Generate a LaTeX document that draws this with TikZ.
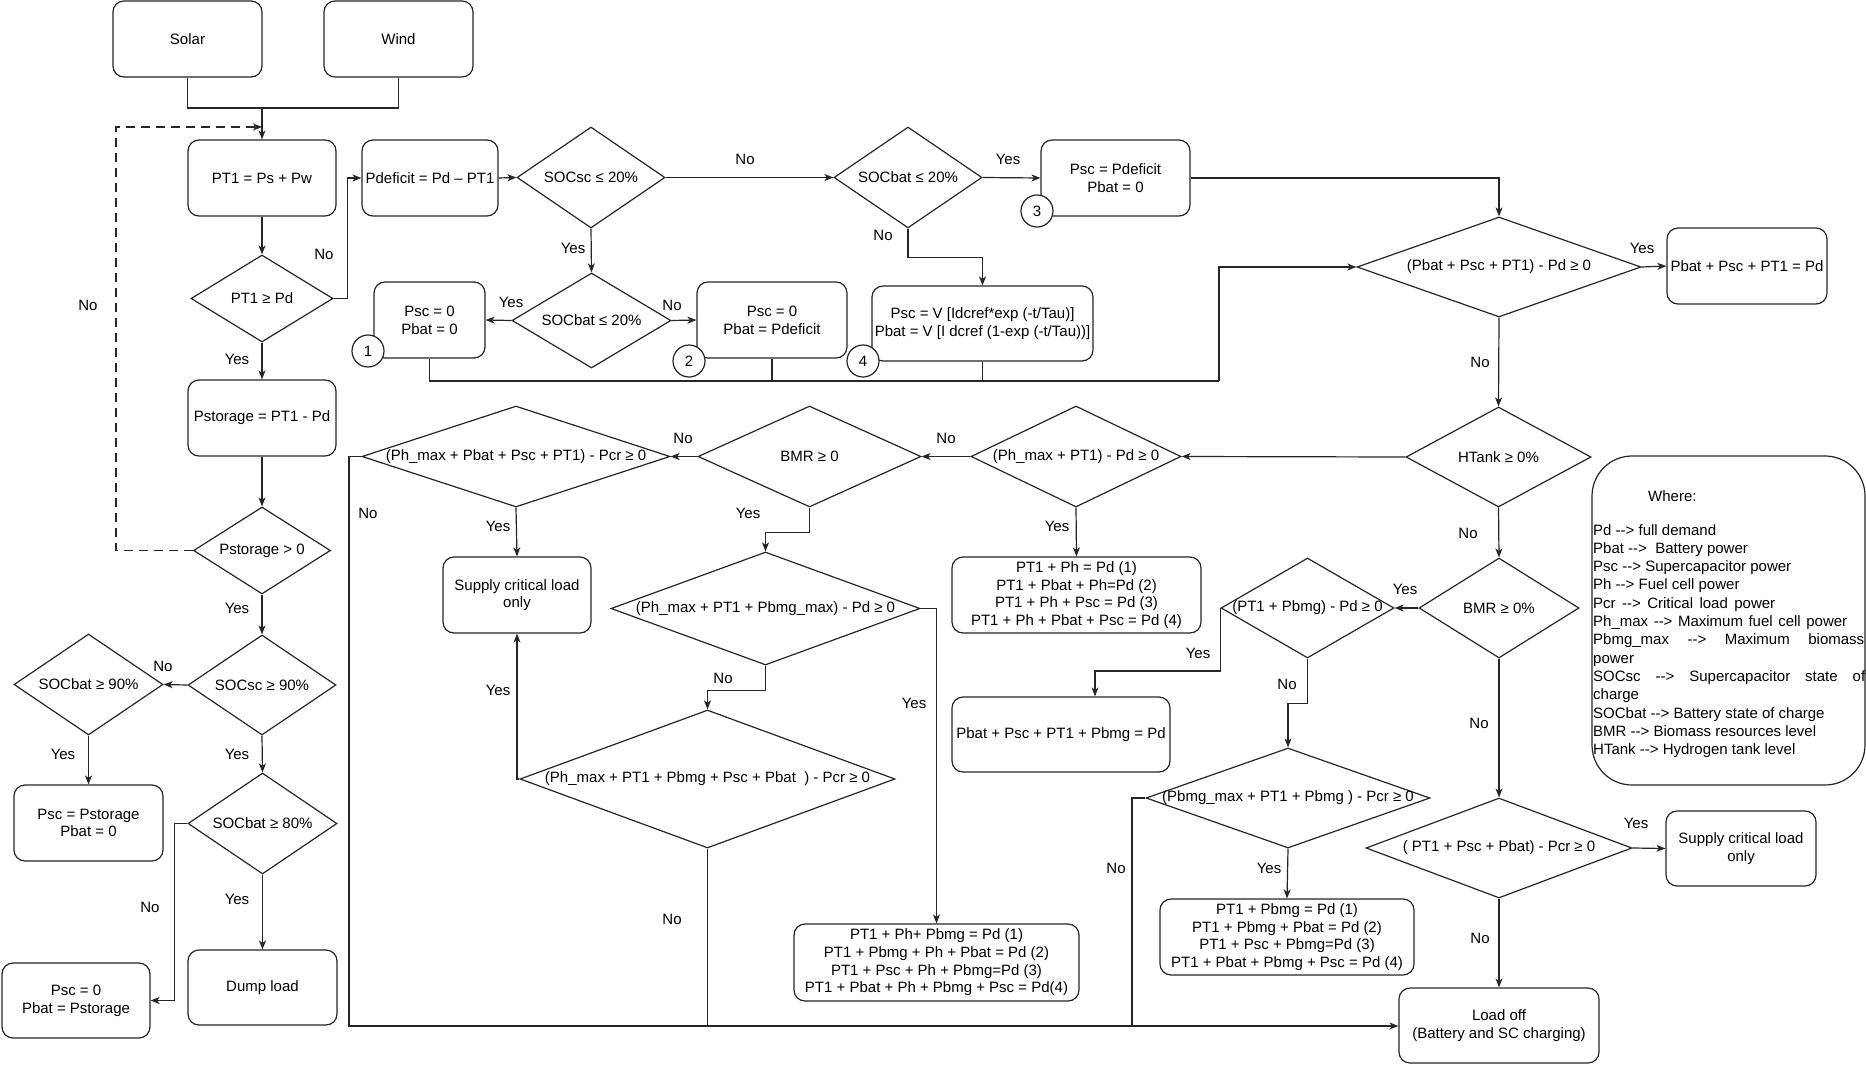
\documentclass[tikz,border=0pt]{standalone}
\usepackage{fontspec}
\setmainfont{Liberation Sans}
\usetikzlibrary{arrows.meta,shapes.geometric}
\newcommand\garr{-\hbox{}-\hbox{}>}
\newcommand\dianode[6]{%
  \node[dia, minimum width=#4, minimum height=#5] (#1) at (#2,#3) {};
  \node[lab] (#1t) at (#1.center) {#6};}
\tikzset{
  ln/.style={line width=1.2pt, draw=black!85},
  arr/.style={ln, -{Stealth[length=9pt,width=7pt,inset=2.5pt]}},
  box/.style={draw=black!85, line width=1.2pt, rounded corners=11pt, align=center, inner sep=2pt, fill=white},
  dia/.style={draw=black!85, line width=1.2pt, diamond, inner sep=0pt, fill=white},
  lab/.style={inner sep=0pt},
  circ/.style={draw=black!85, line width=1.2pt, circle, fill=white, minimum size=32pt, inner sep=0pt},
}
\begin{document}
\begin{tikzpicture}[x=1pt,y=-1pt,font=\fontsize{15}{17.7}\selectfont]
\fill[white] (0,0) rectangle (1866,1065);
\useasboundingbox (0,0) rectangle (1866,1065);

% ---- left column
\node[box, minimum width=149, minimum height=76] (solar) at (187.5,39) {Solar};
\node[box, minimum width=149, minimum height=76] (wind) at (398.5,39) {Wind};
\node[box, minimum width=148, minimum height=76] (pt1) at (262,178) {PT1 = Ps + Pw};
\dianode{c1}{262}{298.5}{142}{87}{PT1 ≥ Pd}
\node[box, minimum width=148, minimum height=76] (pstor) at (262,418) {Pstorage = PT1 - Pd};
\dianode{ps0}{262}{550.5}{137}{87}{Pstorage > 0}
\dianode{sc90}{262}{685}{148}{100}{SOCsc ≥ 90\%}
\dianode{sb90}{88.5}{684.5}{149}{101}{SOCbat ≥ 90\%}
\node[box, minimum width=149, minimum height=76] (bst1) at (88.5,823) {Psc = Pstorage\\Pbat = 0};
\dianode{sb80}{262.5}{823.5}{149}{101}{SOCbat ≥ 80\%}
\node[box, minimum width=148, minimum height=75] (bst2) at (76,1000.5) {Psc = 0\\Pbat = Pstorage};
\node[box, minimum width=149, minimum height=75] (dump) at (262.5,987.5) {Dump load};

% ---- top row
\node[box, minimum width=136, minimum height=76] (pdef) at (430,178) {Pdeficit = Pd – PT1};
\dianode{sc20}{591}{177.5}{148}{101}{SOCsc ≤ 20\%}
\dianode{sba}{908}{177.5}{148}{101}{SOCbat ≤ 20\%}
\dianode{sbb}{591.5}{320.5}{159}{95}{SOCbat ≤ 20\%}
\node[box, minimum width=111, minimum height=76] (b1) at (429.5,320) {Psc = 0\\Pbat = 0};
\node[box, minimum width=150, minimum height=76] (b2) at (772,320) {Psc = 0\\Pbat = Pdeficit};
\node[box, minimum width=149, minimum height=76] (b3) at (1115.5,178) {Psc = Pdeficit\\Pbat = 0};
\node[box, minimum width=221, minimum height=75] (b4) at (982.5,323.5) {Psc = V [Idcref*exp (-t/Tau)]\\Pbat = V [I dcref (1-exp (-t/Tau))]};
\node[circ] (n1) at (368,351) {1};
\node[circ] (n2) at (689,361) {2};
\node[circ] (n3) at (1037,211) {3};
\node[circ] (n4) at (863,361) {4};

\dianode{big}{1499}{267}{284}{100}{(Pbat + Psc + PT1) - Pd ≥ 0}
\node[box, minimum width=160, minimum height=76] (bfin) at (1747,266) {Pbat + Psc + PT1 = Pd};

% ---- middle
\dianode{ht}{1498.5}{457}{185}{100}{HTank ≥ 0\%}
\dianode{php}{1076}{456.5}{210}{101}{(Ph\_max + PT1) - Pd ≥ 0}
\dianode{bm0}{809.5}{456.5}{223}{101}{BMR ≥ 0}
\dianode{pha}{516}{456.5}{308}{101}{(Ph\_max + Pbat + Psc + PT1) - Pcr ≥ 0}
\node[box, minimum width=148, minimum height=76] (sup1) at (517,595) {Supply critical load\\only};
\node[box, minimum width=249, minimum height=76] (bph) at (1076.5,595) {PT1 + Ph = Pd (1)\\PT1 + Pbat + Ph=Pd (2)\\PT1 + Ph + Psc = Pd (3)\\PT1 + Ph + Pbat + Psc = Pd (4)};
\dianode{bmp}{1499}{608}{160}{100}{BMR ≥ 0\%}
\dianode{ptb}{1307.5}{608}{173}{100}{(PT1 + Pbmg) - Pd ≥ 0}
\node[box, minimum width=218, minimum height=75] (bpbs) at (1061,734.5) {Pbat + Psc + PT1 + Pbmg = Pd};
\dianode{pbx}{765.5}{608.5}{309}{113}{(Ph\_max + PT1 + Pbmg\_max) - Pd ≥ 0}
\dianode{phc}{707.5}{779}{375}{138}{(Ph\_max + PT1 + Pbmg + Psc + Pbat\ \ ) - Pcr ≥ 0}
\node[box, minimum width=285, minimum height=77] (bphb) at (936.5,962.5) {PT1 + Ph+ Pbmg = Pd (1)\\PT1 + Pbmg + Ph + Pbat = Pd (2)\\PT1 + Psc + Ph + Pbmg=Pd (3)\\PT1 + Pbat + Ph + Pbmg + Psc = Pd(4)};
\dianode{pbc}{1288}{798}{284}{100}{(Pbmg\_max + PT1 + Pbmg ) - Pcr ≥ 0}
\node[box, minimum width=254, minimum height=76] (bpb) at (1287,937) {PT1 + Pbmg = Pd (1)\\PT1 + Pbmg + Pbat = Pd (2)\\PT1 + Psc + Pbmg=Pd (3)\\PT1 + Pbat + Pbmg + Psc = Pd (4)};
\dianode{pps}{1499}{848}{266}{100}{( PT1 + Psc + Pbat) - Pcr ≥ 0}
\node[box, minimum width=150, minimum height=75] (sup2) at (1741,848.5) {Supply critical load\\only};
\node[box, minimum width=200, minimum height=75] (loff) at (1499,1025.5) {Load off\\(Battery and SC charging)};

% ---- legend
\node[draw=black!85, line width=1.2pt, rounded corners=40pt, minimum width=273, minimum height=329] (leg) at (1728.5,620.5) {};
\node[lab, anchor=base west] (lw) at (1648,501) {Where:};
\node[lab, anchor=base west] (lg1) at (1593,535) {Pd \garr{} full demand};
\node[lab, anchor=base west] (lg2) at (1593,553.3) {Pbat \garr{}\ \ Battery power};
\node[lab, anchor=base west] (lg3) at (1593,571.6) {Psc \garr{} Supercapacitor power};
\node[lab, anchor=base west] (lg4) at (1593,589.9) {Ph \garr{} Fuel cell power};
\node[lab, anchor=base west] (lg5) at (1593,608.2) {\makebox[182pt][s]{Pcr \garr{} Critical load power}};
\node[lab, anchor=base west] (lg6) at (1593,626.5) {\makebox[254pt][s]{Ph\_max \garr{} Maximum fuel cell power}};
\node[lab, anchor=base west] (lg7) at (1593,644.8) {\makebox[271pt][s]{Pbmg\_max \garr{} Maximum biomass}};
\node[lab, anchor=base west] (lg8) at (1593,663.1) {power};
\node[lab, anchor=base west] (lg9) at (1593,681.4) {\makebox[272pt][s]{SOCsc \garr{} Supercapacitor state of}};
\node[lab, anchor=base west] (lg10) at (1593,699.7) {charge};
\node[lab, anchor=base west] (lg11) at (1593,718) {SOCbat \garr{} Battery state of charge};
\node[lab, anchor=base west] (lg12) at (1593,736.3) {BMR \garr{} Biomass resources level};
\node[lab, anchor=base west] (lg13) at (1593,754.6) {HTank \garr{} Hydrogen tank level};

% ---- connectors
\coordinate (jn) at (262,108);
\draw[ln] (solar.south) |- (jn) -| (wind.south);
\draw[arr] (jn) -- (pt1.north);
\coordinate (dl) at (116,127);
\coordinate (dr) at (262,127);
\draw[arr, dash pattern=on 9pt off 6pt] (ps0.west) -| (dl) -- (dr);
\draw[arr] (pt1.south) -- (c1.north);
\draw[arr] (c1.east) -- ++(14,0) |- (pdef.west);
\draw[arr] (c1.south) -- (pstor.north);
\draw[arr] (pstor.south) -- (ps0.north);
\draw[arr] (ps0.south) -- (sc90.north);
\draw[arr] (sc90.west) -- (sb90.east);
\draw[arr] (sb90.south) -- (bst1.north);
\draw[arr] (sc90.south) -- (sb80.north);
\draw[arr] (sb80.south) -- (dump.north);
\draw[arr] (sb80.west) -- ++(-13,0) |- (bst2.east);

\draw[arr] (pdef.east) -- (sc20.west);
\draw[arr] (sc20.east) -- (sba.west);
\draw[arr] (sba.east) -- (b3.west);
\draw[arr] (sba.south) -- ++(0,29) -| (b4.north);
\draw[arr] (sc20.south) -- (sbb.north);
\draw[arr] (sbb.west) -- (b1.east);
\draw[arr] (sbb.east) -- (b2.west);
\coordinate (bus) at (1219,381);
\draw[ln] (b1.south) |- (bus);
\draw[ln] (b2.south) -- (b2.south |- bus);
\draw[ln] (b4.south) -- (b4.south |- bus);
\draw[arr] (bus) |- (big.west);
\draw[arr] (b3.east) -| (big.north);
\draw[arr] (big.east) -- (bfin.west);
\draw[arr] (big.south) -- (ht.north);

\draw[arr] (ht.west) -- (php.east);
\draw[arr] (php.west) -- (bm0.east);
\draw[arr] (php.south) -- (bph.north);
\draw[arr] (bm0.west) -- (pha.east);
\draw[arr] (pha.south) -- (sup1.north);
\coordinate (bl) at (349,1026);
\draw[arr] (pha.west) -| (bl) -- (bl -| loff.west);
\draw[arr] (bm0.south) -- ++(0,25) -| (pbx.north);
\draw[arr] (pbx.east) -| (bphb.north);
\draw[arr] (pbx.south) -- ++(0,25) -| (phc.north);
\draw[arr] (phc.west) -| (sup1.south);
\draw[ln] (phc.south) -- (phc.south |- bl);
\draw[arr] (ht.south) -- (bmp.north);
\draw[arr] (bmp.west) -- (ptb.east);
\draw[arr] (ptb.west) -- ++(0,63) -| ([xshift=34pt]bpbs.north);
\draw[arr] (ptb.south) -- ++(0,45) -| (pbc.north);
\draw[arr] (pbc.south) -- (bpb.north);
\coordinate (bj) at (1132,1026);
\draw[ln] (pbc.west) -| (bj);
\draw[arr] (bmp.south) -- (pps.north);
\draw[arr] (pps.east) -- (sup2.west);
\draw[arr] (pps.south) -- (loff.north);

% ---- labels
\node[lab] (t1) at (324,254) {No};
\node[lab] (t2) at (237,359) {Yes};
\node[lab] (t3) at (88,305) {No};
\node[lab] (t4) at (237,608) {Yes};
\node[lab] (t5) at (163,666) {No};
\node[lab] (t6) at (63,754) {Yes};
\node[lab] (t7) at (237,754) {Yes};
\node[lab] (t8) at (150,907) {No};
\node[lab] (t9) at (237,899) {Yes};
\node[lab] (t10) at (745,159) {No};
\node[lab] (t11) at (1008,159) {Yes};
\node[lab] (t12) at (883,235) {No};
\node[lab] (t13) at (573,248) {Yes};
\node[lab] (t14) at (511,302) {Yes};
\node[lab] (t15) at (672,305) {No};
\node[lab] (t16) at (1642,248) {Yes};
\node[lab] (t17) at (1480,362) {No};
\node[lab] (t18) at (946,438) {No};
\node[lab] (t19) at (1057,526) {Yes};
\node[lab] (t20) at (683,438) {No};
\node[lab] (t21) at (498,526) {Yes};
\node[lab] (t22) at (368,513) {No};
\node[lab] (t23) at (748,513) {Yes};
\node[lab] (t24) at (914,703) {Yes};
\node[lab] (t25) at (723,678) {No};
\node[lab] (t26) at (498,690) {Yes};
\node[lab] (t27) at (672,919) {No};
\node[lab] (t28) at (1468,533) {No};
\node[lab] (t29) at (1405,589) {Yes};
\node[lab] (t30) at (1198,653) {Yes};
\node[lab] (t31) at (1287,684) {No};
\node[lab] (t32) at (1479,723) {No};
\node[lab] (t33) at (1269,868) {Yes};
\node[lab] (t34) at (1116,868) {No};
\node[lab] (t35) at (1636,823) {Yes};
\node[lab] (t36) at (1480,938) {No};
\end{tikzpicture}
\end{document}
